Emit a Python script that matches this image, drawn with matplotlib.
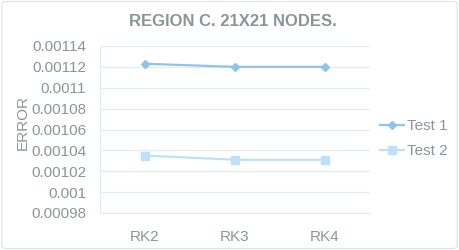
import matplotlib
matplotlib.use("Agg")
import matplotlib.pyplot as plt
from matplotlib.patches import FancyBboxPatch

categories = ["RK2", "RK3", "RK4"]
test1 = [0.001123, 0.001120, 0.001120]
test2 = [0.001035, 0.001031, 0.001031]
yticks = [0.00098, 0.001, 0.00102, 0.00104, 0.00106, 0.00108, 0.0011, 0.00112, 0.00114]
ytick_labels = ["0.00098", "0.001", "0.00102", "0.00104", "0.00106", "0.00108", "0.0011", "0.00112", "0.00114"]

plt.rcParams['font.family'] = ['Liberation Sans', 'DejaVu Sans']
txt = '#8a9696'
grid = '#e6ecec'

fig = plt.figure(figsize=(4.59, 2.5), dpi=100)
bg = FancyBboxPatch((0.004, 0.006), 0.992, 0.988, boxstyle="round,pad=0,rounding_size=0.01",
                    transform=fig.transFigure, fc='white', ec='#dde3e3', lw=0.8, zorder=-10)
fig.patches.append(bg)
ax = fig.add_axes([0.218, 0.148, 0.588, 0.668])
ax.set_facecolor('none')
x = range(len(categories))
ax.plot(x, test1, color='#8cc4ec', marker='D', markersize=4, lw=1.6, label='Test 1')
ax.plot(x, test2, color='#bfe1f8', marker='s', markersize=6, lw=1.6, label='Test 2')
ax.set_xlim(-0.5, 2.5)
ax.set_ylim(0.00098, 0.00114)
ax.set_yticks(yticks)
ax.set_yticklabels(ytick_labels)
ax.set_xticks(list(x))
ax.set_xticklabels(categories)
ax.tick_params(axis='both', length=0, colors=txt, labelsize=11)
ax.tick_params(axis='y', pad=10)
ax.tick_params(axis='x', pad=12)
ax.grid(axis='y', color=grid, lw=0.9)
ax.set_axisbelow(True)
for s in ['top', 'right']:
    ax.spines[s].set_visible(False)
for s in ['left', 'bottom']:
    ax.spines[s].set_color(grid)
    ax.spines[s].set_linewidth(0.9)
fig.text(23 / 459, 0.51, 'ERROR', rotation=90, ha='center', va='center', color=txt, fontsize=11)
fig.text(0.508, 0.915, 'REGION C. 21X21 NODES.', ha='center', va='center', color=txt,
         fontsize=12, fontweight='bold')
leg = fig.legend(loc='center left', bbox_to_anchor=(0.828, 0.445), frameon=False, fontsize=11,
                 labelcolor=txt, handlelength=1.6, handletextpad=0.15, labelspacing=0.75,
                 borderaxespad=0, borderpad=0)
fig.savefig('out.png', dpi=100)
